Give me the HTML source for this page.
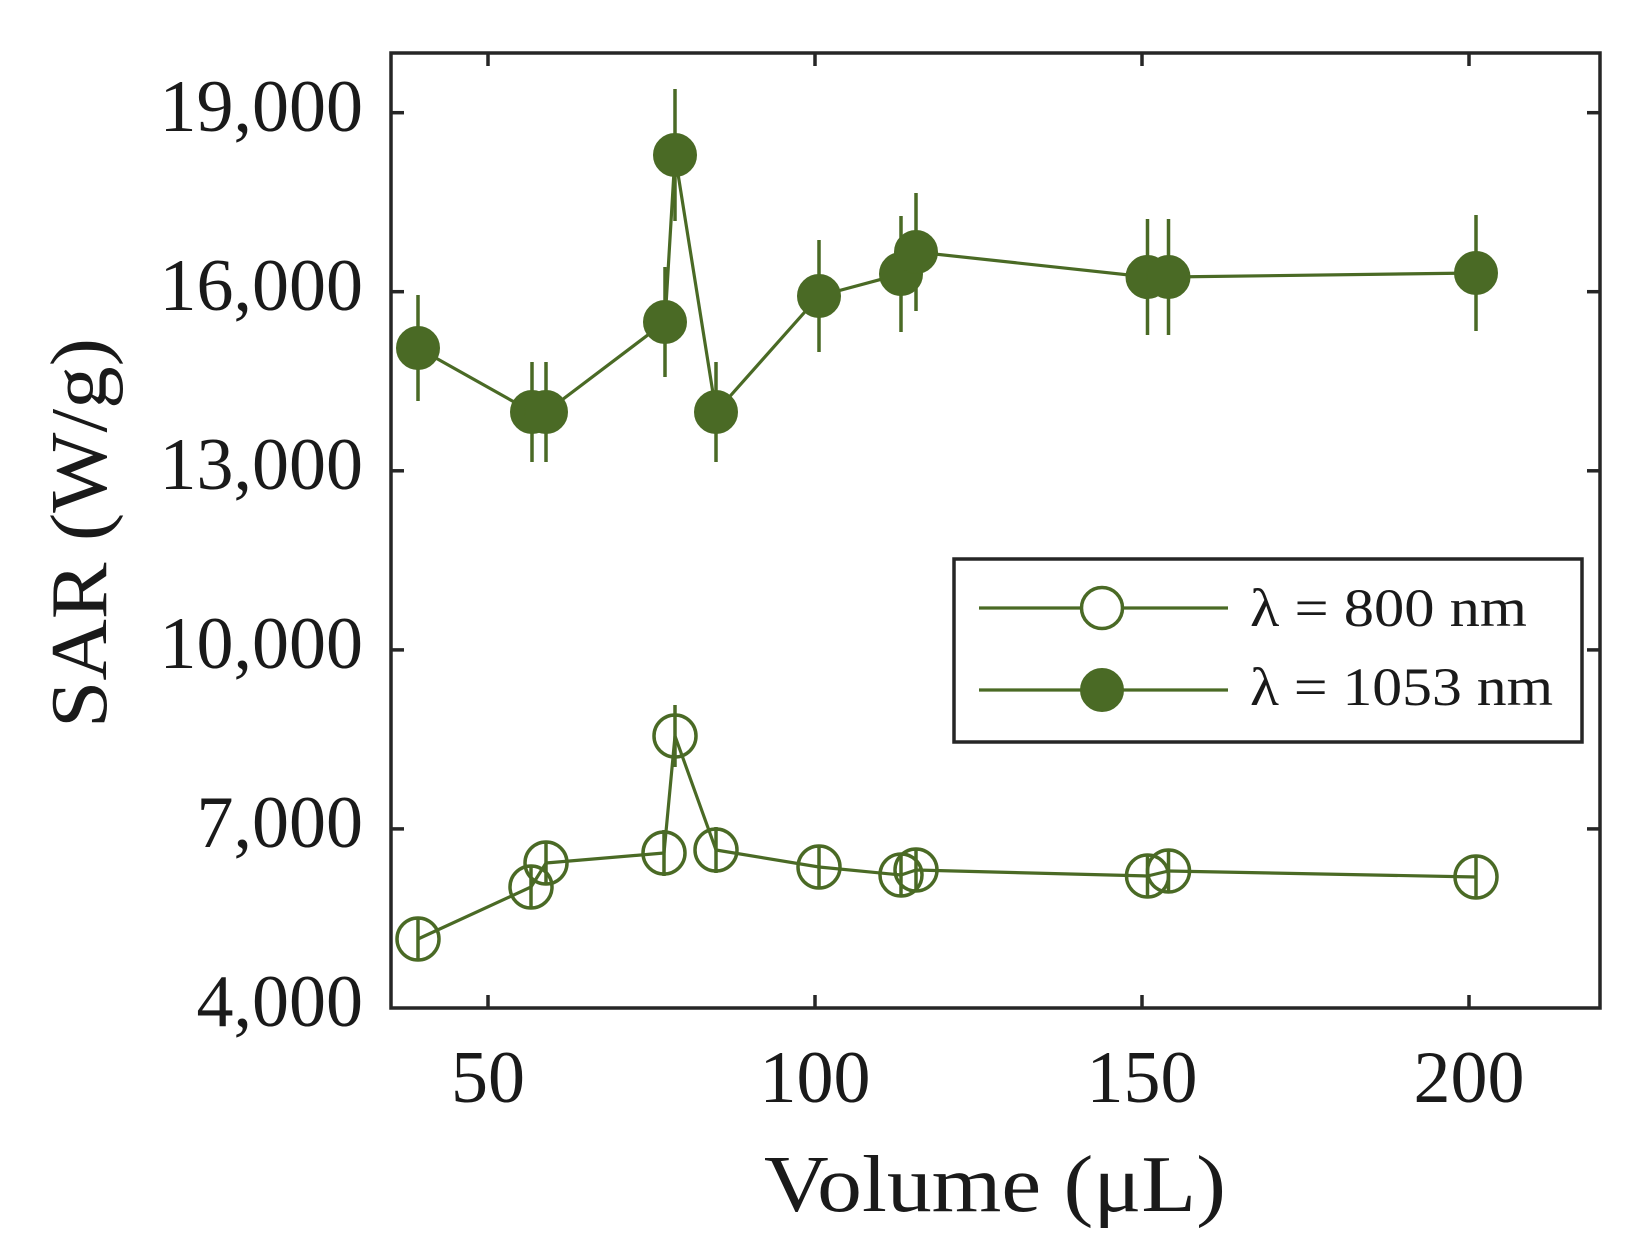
<!DOCTYPE html>
<html>
<head>
<meta charset="utf-8">
<style>
  html, body { margin: 0; padding: 0; background: #ffffff; }
  svg { display: block; }
  text { font-family: "Liberation Serif", "DejaVu Serif", serif; fill: #1a1a1a; }
</style>
</head>
<body>
<svg width="1647" height="1257" viewBox="0 0 1647 1257" xmlns="http://www.w3.org/2000/svg">
  <rect x="0" y="0" width="1647" height="1257" fill="#ffffff"/>

  <!-- ticks (inside, mirrored) -->
  <g stroke="#262626" stroke-width="3.5" fill="none">
    <!-- x ticks bottom -->
    <line x1="488" y1="1008" x2="488" y2="995"/>
    <line x1="815" y1="1008" x2="815" y2="995"/>
    <line x1="1142" y1="1008" x2="1142" y2="995"/>
    <line x1="1469" y1="1008" x2="1469" y2="995"/>
    <!-- x ticks top -->
    <line x1="488" y1="53" x2="488" y2="66"/>
    <line x1="815" y1="53" x2="815" y2="66"/>
    <line x1="1142" y1="53" x2="1142" y2="66"/>
    <line x1="1469" y1="53" x2="1469" y2="66"/>
    <!-- y ticks left -->
    <line x1="391" y1="828.9" x2="404" y2="828.9"/>
    <line x1="391" y1="649.9" x2="404" y2="649.9"/>
    <line x1="391" y1="470.8" x2="404" y2="470.8"/>
    <line x1="391" y1="291.7" x2="404" y2="291.7"/>
    <line x1="391" y1="112.7" x2="404" y2="112.7"/>
    <!-- y ticks right -->
    <line x1="1600" y1="828.9" x2="1587" y2="828.9"/>
    <line x1="1600" y1="649.9" x2="1587" y2="649.9"/>
    <line x1="1600" y1="470.8" x2="1587" y2="470.8"/>
    <line x1="1600" y1="291.7" x2="1587" y2="291.7"/>
    <line x1="1600" y1="112.7" x2="1587" y2="112.7"/>
  </g>

  <!-- y tick labels -->
  <g font-size="74" text-anchor="end">
    <text x="363" y="1026">4,000</text>
    <text x="363" y="847">7,000</text>
    <text x="363" y="668">10,000</text>
    <text x="363" y="489">13,000</text>
    <text x="363" y="310">16,000</text>
    <text x="363" y="131">19,000</text>
  </g>

  <!-- x tick labels -->
  <g font-size="74" text-anchor="middle">
    <text x="488" y="1102">50</text>
    <text x="815" y="1102">100</text>
    <text x="1142" y="1102">150</text>
    <text x="1469" y="1102">200</text>
  </g>

  <!-- axis labels -->
  <text x="995" y="1211" font-size="80" text-anchor="middle" textLength="462" lengthAdjust="spacingAndGlyphs">Volume (μL)</text>
  <text transform="translate(106,533) rotate(-90)" x="0" y="0" font-size="80" text-anchor="middle" textLength="390" lengthAdjust="spacingAndGlyphs">SAR (W/g)</text>

  <!-- Series 1053 nm (filled) -->
  <g stroke="#4a6a25" fill="none" stroke-width="3.5">
    <!-- error bars -->
    <line x1="418" y1="295" x2="418" y2="401"/>
    <line x1="532" y1="362" x2="532" y2="462"/>
    <line x1="546" y1="362" x2="546" y2="462"/>
    <line x1="665" y1="267" x2="665" y2="377"/>
    <line x1="675" y1="89" x2="675" y2="221"/>
    <line x1="716" y1="362" x2="716" y2="462"/>
    <line x1="819" y1="240" x2="819" y2="352"/>
    <line x1="901" y1="216" x2="901" y2="332"/>
    <line x1="916" y1="193" x2="916" y2="311"/>
    <line x1="1147.5" y1="219" x2="1147.5" y2="335"/>
    <line x1="1168.5" y1="219" x2="1168.5" y2="335"/>
    <line x1="1476" y1="215" x2="1476" y2="331"/>
    <polyline stroke-width="3.2" stroke-linejoin="round" points="418,348 532,412 546,412 665,322 675,155 716,412 819,296 901,274 916,252 1147.5,277 1168.5,277 1476,273"/>
  </g>
  <g fill="#4a6a25" stroke="#4a6a25" stroke-width="1">
    <circle cx="418" cy="348" r="21.5"/>
    <circle cx="532" cy="412" r="21.5"/>
    <circle cx="546" cy="412" r="21.5"/>
    <circle cx="665" cy="322" r="21.5"/>
    <circle cx="675" cy="155" r="21.5"/>
    <circle cx="716" cy="412" r="21.5"/>
    <circle cx="819" cy="296" r="21.5"/>
    <circle cx="901" cy="274" r="21.5"/>
    <circle cx="916" cy="252" r="21.5"/>
    <circle cx="1147.5" cy="277" r="21.5"/>
    <circle cx="1168.5" cy="277" r="21.5"/>
    <circle cx="1476" cy="273" r="21.5"/>
  </g>

  <!-- Series 800 nm (open) -->
  <g stroke="#4a6a25" fill="none" stroke-width="3.5">
    <line x1="418" y1="919" x2="418" y2="959"/>
    <line x1="531" y1="867" x2="531" y2="907"/>
    <line x1="546" y1="843" x2="546" y2="883"/>
    <line x1="664" y1="830" x2="664" y2="876"/>
    <line x1="675" y1="705" x2="675" y2="767"/>
    <line x1="716" y1="827" x2="716" y2="873"/>
    <line x1="819" y1="847" x2="819" y2="887"/>
    <line x1="901" y1="855" x2="901" y2="895"/>
    <line x1="916" y1="850" x2="916" y2="890"/>
    <line x1="1147.5" y1="856" x2="1147.5" y2="896"/>
    <line x1="1168.5" y1="851" x2="1168.5" y2="891"/>
    <line x1="1476" y1="857" x2="1476" y2="897"/>
    <polyline stroke-width="3.2" stroke-linejoin="round" points="418,939 531,887 546,863 664,853 675,736 716,850 819,867 901,875 916,870 1147.5,876 1168.5,871 1476,877"/>
    <circle cx="418" cy="939" r="21"/>
    <circle cx="531" cy="887" r="21"/>
    <circle cx="546" cy="863" r="21"/>
    <circle cx="664" cy="853" r="21"/>
    <circle cx="675" cy="736" r="21"/>
    <circle cx="716" cy="850" r="21"/>
    <circle cx="819" cy="867" r="21"/>
    <circle cx="901" cy="875" r="21"/>
    <circle cx="916" cy="870" r="21"/>
    <circle cx="1147.5" cy="876" r="21"/>
    <circle cx="1168.5" cy="871" r="21"/>
    <circle cx="1476" cy="877" r="21"/>
  </g>

  <!-- Legend -->
  <rect x="954" y="559" width="628" height="183" fill="#ffffff" stroke="#262626" stroke-width="3.5"/>
  <g stroke="#4a6a25" stroke-width="3.2">
    <line x1="979" y1="608" x2="1228" y2="608"/>
    <line x1="979" y1="690" x2="1228" y2="690"/>
  </g>
  <circle cx="1102" cy="608" r="20.5" fill="#ffffff" stroke="#4a6a25" stroke-width="3.5"/>
  <circle cx="1102" cy="690" r="21.5" fill="#4a6a25" stroke="#4a6a25" stroke-width="1"/>
  <text x="1250" y="626" font-size="54" textLength="277" lengthAdjust="spacingAndGlyphs">λ = 800 nm</text>
  <text x="1250" y="705" font-size="54" textLength="303" lengthAdjust="spacingAndGlyphs">λ = 1053 nm</text>

  <!-- axes box -->
  <rect x="391" y="53" width="1209" height="955" fill="none" stroke="#262626" stroke-width="3.5"/>
</svg>
</body>
</html>
